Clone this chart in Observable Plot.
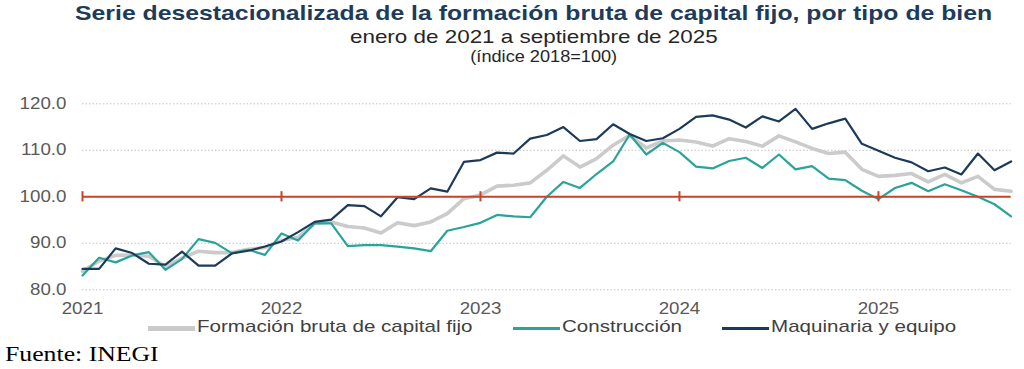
<!DOCTYPE html>
<html><head><meta charset="utf-8">
<script src="https://cdn.jsdelivr.net/npm/d3@7"></script>
<script src="https://cdn.jsdelivr.net/npm/@observablehq/plot@0.6"></script>
<style>
body{margin:0;background:#fff;}
#wrap{position:relative;width:1024px;height:369px;overflow:hidden;font-family:"Liberation Sans",Arial,sans-serif;}
.c{position:absolute;left:22px;width:1024px;text-align:center;white-space:nowrap;}
.c span{display:inline-block;transform:scaleX(1.18);transform-origin:50% 50%;}
#t1{top:1px;font-weight:bold;font-size:21px;color:#1e3b5a;}
#t2{top:26px;font-size:19px;color:#262626;}
#t3{top:47px;font-size:16.5px;color:#262626;left:32px;}
#t3 span{transform:scaleX(1.1);}
#chart{position:absolute;top:80px;left:0;}
#legend{position:absolute;top:317px;left:0;width:1024px;height:22px;font-size:17px;color:#404040;white-space:nowrap;}
.sw{position:absolute;width:47px;}
.lt{position:absolute;top:0;transform:scaleX(1.21);transform-origin:0 50%;}
#src{position:absolute;top:341px;left:5px;font-family:"Liberation Serif","Times New Roman",serif;font-size:22px;color:#000;transform:scaleX(1.17);transform-origin:0 50%;white-space:nowrap;}
</style></head>
<body><div id="wrap">
<div id="t1" class="c"><span>Serie desestacionalizada de la formación bruta de capital fijo, por tipo de bien</span></div>
<div id="t2" class="c"><span>enero de 2021 a septiembre de 2025</span></div>
<div id="t3" class="c"><span>(índice 2018=100)</span></div>
<div id="chart"></div>
<div id="legend"></div>
<div id="src">Fuente: INEGI</div>
</div>
<script>
const seriesNames = ["Formación bruta de capital fijo", "Construcción", "Maquinaria y equipo"];
const seriesColors = ["#cbcbcb", "#2aa39a", "#1c3a5a"];
const seriesWidths = [3.6, 2.2, 2.2];
const yearLabels = ["2021", "2022", "2023", "2024", "2025"];
const yearIdx = [0, 12, 24, 36, 48];
const yTicks = [80, 90, 100, 110, 120];
const refValue = 100;

// enero 2021 ... septiembre 2025 (57 meses)
const fbcf = [84.0, 86.2, 87.4, 87.5, 87.2, 85.0, 86.8, 88.3, 88.0, 88.0, 88.7, 89.1,
  90.6, 91.3, 94.3, 94.6, 93.6, 93.3, 92.2, 94.4, 93.8, 94.6, 96.4, 99.6,
  100.4, 102.3, 102.5, 103.0, 105.7, 108.8, 106.4, 108.2, 111.1, 113.2, 110.5, 112.0,
  112.2, 111.8, 110.9, 112.5, 111.9, 110.9, 113.1, 111.8, 110.4, 109.3, 109.6, 105.9,
  104.4, 104.6, 105.0, 103.2, 104.8, 103.0, 104.4, 101.6, 101.2];
const construccion = [83.1, 86.9, 85.9, 87.4, 88.1, 84.3, 86.6, 90.9, 90.1, 87.9, 88.6, 87.5,
  92.1, 90.6, 94.3, 94.3, 89.4, 89.6, 89.6, 89.3, 88.9, 88.3, 92.7, 93.5,
  94.4, 96.1, 95.8, 95.6, 100.0, 103.2, 101.9, 104.9, 107.6, 113.4, 109.1, 111.6,
  109.6, 106.5, 106.1, 107.7, 108.4, 106.2, 109.1, 105.9, 106.6, 103.9, 103.6, 101.3,
  99.5, 101.9, 103.0, 101.2, 102.7, 101.4, 100.0, 98.4, 95.8];
const maquinaria = [84.5, 84.5, 88.9, 87.9, 85.6, 85.4, 88.2, 85.2, 85.2, 87.8, 88.4, 89.3,
  90.4, 92.4, 94.6, 95.1, 98.2, 98.0, 95.8, 99.9, 99.5, 101.8, 101.1, 107.5,
  107.9, 109.5, 109.3, 112.5, 113.3, 115.0, 112.0, 112.4, 115.6, 113.5, 112.0, 112.6,
  114.6, 117.2, 117.5, 116.6, 114.9, 117.3, 116.2, 118.9, 114.6, 115.8, 116.8, 111.4,
  109.9, 108.4, 107.4, 105.5, 106.3, 104.8, 109.3, 105.7, 107.6];

const allSeries = [fbcf, construccion, maquinaria];
const rows = allSeries.map((vals, s) => vals.map((v, i) => ({i, v, s})));
const red = "#c8432b";

const chart = Plot.plot({
  width: 1024, height: 240,
  marginLeft: 82, marginRight: 13.4, marginTop: 23.3, marginBottom: 30.7,
  x: {domain: [0, fbcf.length - 1], axis: null},
  y: {domain: [80, 120], axis: null},
  style: {fontFamily: "'Liberation Sans', Arial, sans-serif", background: "#fff"},
  marks: [
    Plot.ruleY(yTicks, {stroke: "#c4c4c4", strokeWidth: 1, strokeDasharray: "1.5,2"}),
    Plot.axisY({ticks: yTicks, label: null, tickSize: 0, tickPadding: 16, tickFormat: d => d.toFixed(1), fontSize: 16, fill: "#595959"}),
    Plot.axisX({ticks: yearIdx, label: null, tickSize: 0, tickPadding: 13, tickFormat: d => yearLabels[yearIdx.indexOf(d)], fontSize: 16, fill: "#595959"}),
    ...rows.map((r, s) => Plot.line(r, {x: "i", y: "v", stroke: seriesColors[s], strokeWidth: seriesWidths[s], strokeLinejoin: "round"})),
    Plot.ruleY([refValue], {stroke: red, strokeWidth: 2}),
    Plot.ruleX(yearIdx, {x: d => d, y1: () => refValue - 1.1, y2: () => refValue + 1.1, stroke: red, strokeWidth: 2})
  ]
});
document.getElementById("chart").appendChild(chart);
// the reference's text is horizontally widened; mimic it
chart.querySelectorAll("text").forEach(t => {
  const len = t.getComputedTextLength();
  if (len > 0) {
    t.setAttribute("textLength", (len * 1.17).toFixed(1));
    t.setAttribute("lengthAdjust", "spacingAndGlyphs");
  }
});

const lg = document.getElementById("legend");
let cx = 148;
seriesNames.forEach((n, s) => {
  const sw = document.createElement("span");
  sw.className = "sw";
  const h = s === 0 ? 5 : 3;
  sw.style.height = h + "px";
  sw.style.top = (11 - h / 2) + "px";
  sw.style.left = cx + "px";
  sw.style.background = seriesColors[s];
  lg.appendChild(sw);
  const tx = document.createElement("span");
  tx.className = "lt";
  tx.textContent = n;
  tx.style.left = (cx + 49) + "px";
  lg.appendChild(tx);
  cx += 49 + tx.getBoundingClientRect().width + 40;
});
</script>
</body></html>
